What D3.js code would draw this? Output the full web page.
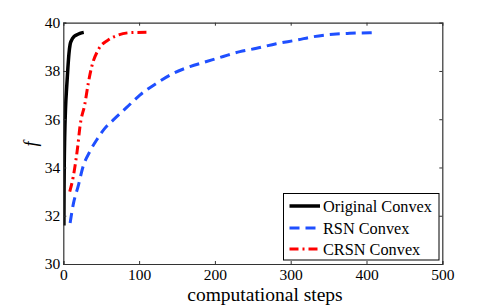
<!DOCTYPE html>
<html><head><meta charset="utf-8">
<script src="https://cdn.jsdelivr.net/npm/d3@7"></script>
<style>body{margin:0;background:#fff} text{font-family:'Liberation Serif','Times New Roman',serif}</style>
</head><body>
<script>
const xTicks = [0,100,200,300,400,500];
const yTicks = [30,32,34,36,38,40];
const seriesNames = ["Original Convex","RSN Convex","CRSN Convex"];
const originalX = [0.8,1.0,1.3,1.8,3,4.5,6,7.5,9,11,14,18,22,27];
const originalY = [31.6,33,34.2,35.2,36.5,37.35,38.1,38.73,39.1,39.28,39.42,39.5,39.56,39.6];
const rsnX = [9,13,20,26,35,44,55,66,84,101,123,145,167,189,211,233,255,281,308,330,356,378,409];
const rsnY = [31.7,32.45,33.27,34.03,34.66,35.14,35.63,35.97,36.5,37.0,37.49,37.9,38.18,38.39,38.6,38.8,38.94,39.13,39.28,39.42,39.52,39.56,39.59];
const crsnX = [8.5,13,16,19,22,28.6,33,37.5,46,59,72.6,90,114];
const crsnY = [33.0,33.6,34.17,34.86,35.7,36.66,37.5,38.18,38.87,39.28,39.49,39.59,39.6];

const W=490,H=307, PL=63.3, PR=442.3, PT=22.7, PB=264;
const svg=d3.select("body").append("svg").attr("width",W).attr("height",H);
const x=d3.scaleLinear().domain([0,500]).range([PL,PR]);
const y=d3.scaleLinear().domain([30,40]).range([PB,PT]);
const font="'Liberation Serif','Times New Roman',serif";

svg.append("defs").append("clipPath").attr("id","c").append("rect")
  .attr("x",PL).attr("y",PT).attr("width",PR-PL).attr("height",PB-PT);

const line=d3.line().x(d=>x(d[0])).y(d=>y(d[1])).curve(d3.curveMonotoneX);
const series=[
 {name:seriesNames[0],xs:originalX,ys:originalY,color:"#000",w:3.5,dash:null},
 {name:seriesNames[1],xs:rsnX,ys:rsnY,color:"#1f4fff",w:3,dash:"10,6"},
 {name:seriesNames[2],xs:crsnX,ys:crsnY,color:"#ff0000",w:3,dash:"9,4,2,4"}
];
const g=svg.append("g").attr("clip-path","url(#c)");
series.slice().reverse().forEach(s=>{
  g.append("path").datum(s.xs.map((v,i)=>[v,s.ys[i]]))
   .attr("d",line).attr("fill","none").attr("stroke",s.color)
   .attr("stroke-width",s.w).attr("stroke-dasharray",s.dash);
});

const axB=svg.append("g").attr("transform",`translate(0,${PB})`)
  .call(d3.axisBottom(x).tickValues(xTicks).tickSize(-3).tickPadding(5).tickFormat(d3.format("d")));
const axT=svg.append("g").attr("transform",`translate(0,${PT})`)
  .call(d3.axisTop(x).tickValues(xTicks).tickSize(-3).tickFormat(""));
const axL=svg.append("g").attr("transform",`translate(${PL},0)`)
  .call(d3.axisLeft(y).tickValues(yTicks).tickSize(-3).tickPadding(3).tickFormat(d3.format("d")));
const axR=svg.append("g").attr("transform",`translate(${PR},0)`)
  .call(d3.axisRight(y).tickValues(yTicks).tickSize(-3).tickFormat(""));
[axB,axT,axL,axR].forEach(a=>{
  a.attr("font-family",null).attr("font-size",null);
  a.select(".domain").attr("stroke","#333").attr("stroke-width",1.2);
  a.selectAll(".tick line").attr("stroke","#333");
  a.selectAll("text").style("font-family",font).style("font-size","15.5px").attr("fill","#000");
});
axT.selectAll(".tick").filter(d=>d===0||d===500).remove();
axR.selectAll(".tick").filter(d=>d===30||d===40).remove();

svg.append("text").attr("x",265).attr("y",301).attr("text-anchor","middle")
  .style("font-family",font).style("font-size","19.5px").text("computational steps");
svg.append("text").attr("transform","translate(37,144) rotate(-90)").attr("text-anchor","middle")
  .style("font-family",font).style("font-style","italic").style("font-size","18px").text("f");

const lg=svg.append("g");
lg.append("rect").attr("x",283.5).attr("y",193.5).attr("width",155.5).attr("height",66.5)
  .attr("fill","#fff").attr("stroke","#000").attr("stroke-width",1);
const rows=[206,228,249];
series.forEach((s,i)=>{
  lg.append("line").attr("x1",289.5).attr("x2",320).attr("y1",rows[i]).attr("y2",rows[i])
    .attr("stroke",s.color).attr("stroke-width",s.w).attr("stroke-dasharray",s.dash);
  lg.append("text").attr("x",323).attr("y",rows[i]).attr("dy","0.35em")
    .style("font-family",font).style("font-size","16.3px").text(s.name);
});
</script>
</body></html>
